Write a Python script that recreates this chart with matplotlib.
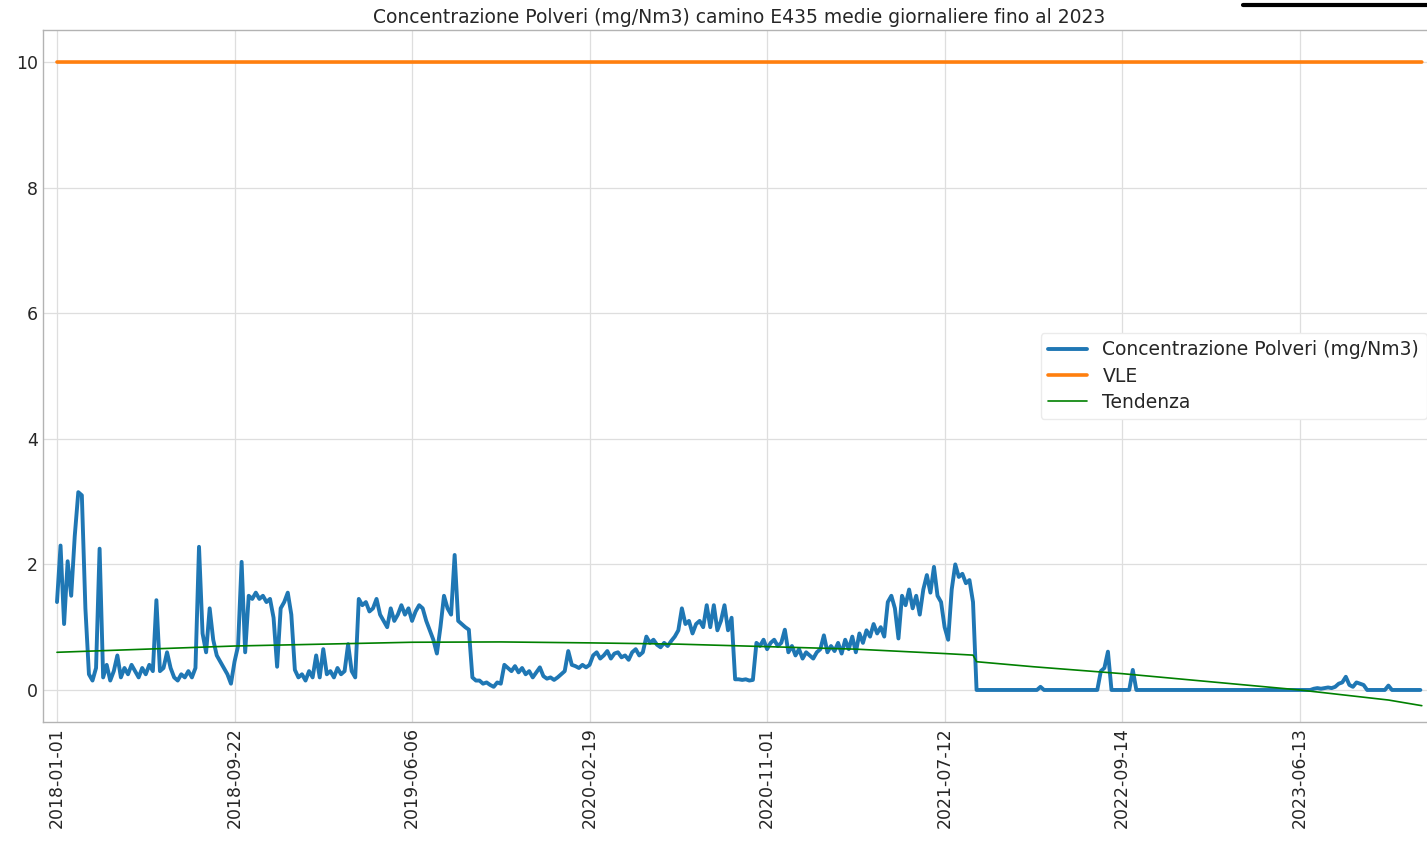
import numpy as np
import matplotlib
matplotlib.use("Agg")
import matplotlib.pyplot as plt
from matplotlib.lines import Line2D

# ---------------- data ----------------
title = "Concentrazione Polveri (mg/Nm3) camino E435 medie giornaliere fino al 2023"
series_label = "Concentrazione Polveri (mg/Nm3)"
vle_label = "VLE"
trend_label = "Tendenza"

n_rows = 1923          # daily rows in the table
sample_step = 5        # one value read every 5 rows
tick_step = 250
tick_labels = ["2018-01-01", "2018-09-22", "2019-06-06", "2020-02-19",
               "2020-11-01", "2021-07-12", "2022-09-14", "2023-06-13"]

conc = [
    1.4, 2.3, 1.05, 2.05, 1.5, 2.45, 3.15, 3.1, 1.3, 0.25,
    0.15, 0.35, 2.25, 0.2, 0.4, 0.15, 0.3, 0.55, 0.2, 0.35,
    0.25, 0.4, 0.3, 0.2, 0.35, 0.25, 0.4, 0.3, 1.43, 0.3,
    0.35, 0.6, 0.35, 0.2, 0.15, 0.25, 0.2, 0.3, 0.2, 0.35,
    2.28, 0.9, 0.6, 1.3, 0.8, 0.55, 0.45, 0.35, 0.25, 0.1,
    0.45, 0.7, 2.04, 0.6, 1.5, 1.45, 1.55, 1.45, 1.5, 1.4,
    1.45, 1.15, 0.37, 1.3, 1.4, 1.55, 1.2, 0.32, 0.2, 0.25,
    0.15, 0.3, 0.2, 0.55, 0.2, 0.65, 0.25, 0.3, 0.2, 0.35,
    0.25, 0.3, 0.73, 0.3, 0.2, 1.45, 1.35, 1.4, 1.25, 1.3,
    1.45, 1.2, 1.1, 1.0, 1.3, 1.1, 1.2, 1.35, 1.2, 1.3,
    1.1, 1.25, 1.35, 1.3, 1.1, 0.95, 0.8, 0.58, 1.0, 1.5,
    1.3, 1.2, 2.15, 1.1, 1.05, 1.0, 0.96, 0.2, 0.15, 0.15,
    0.1, 0.12, 0.08, 0.05, 0.12, 0.1, 0.4, 0.35, 0.3, 0.38,
    0.28, 0.35, 0.25, 0.3, 0.2, 0.28, 0.36, 0.22, 0.18, 0.2,
    0.16, 0.2, 0.25, 0.3, 0.62, 0.4, 0.38, 0.35, 0.4, 0.36,
    0.4, 0.55, 0.6, 0.5, 0.55, 0.62, 0.5, 0.58, 0.6, 0.52,
    0.55, 0.48, 0.6, 0.65, 0.55, 0.6, 0.85, 0.75, 0.8, 0.72,
    0.68, 0.75, 0.7, 0.78, 0.85, 0.95, 1.3, 1.05, 1.1, 0.9,
    1.05, 1.1, 1.0, 1.35, 1.0, 1.35, 0.95, 1.1, 1.35, 0.95,
    1.15, 0.17, 0.17, 0.16, 0.17, 0.15, 0.16, 0.75, 0.7, 0.8,
    0.65, 0.75, 0.8, 0.7, 0.75, 0.96, 0.6, 0.7, 0.55, 0.65,
    0.5, 0.6, 0.55, 0.5, 0.6, 0.65, 0.87, 0.6, 0.7, 0.62,
    0.75, 0.58, 0.8, 0.65, 0.85, 0.6, 0.9, 0.75, 0.95, 0.85,
    1.05, 0.9, 1.0, 0.85, 1.4, 1.5, 1.3, 0.82, 1.5, 1.35,
    1.6, 1.3, 1.5, 1.2, 1.6, 1.83, 1.55, 1.96, 1.5, 1.4,
    1.0, 0.8, 1.6, 2.0, 1.8, 1.85, 1.7, 1.75, 1.4, 0.0,
    0.0, 0.0, 0.0, 0.0, 0.0, 0.0, 0.0, 0.0, 0.0, 0.0,
    0.0, 0.0, 0.0, 0.0, 0.0, 0.0, 0.0, 0.05, 0.0, 0.0,
    0.0, 0.0, 0.0, 0.0, 0.0, 0.0, 0.0, 0.0, 0.0, 0.0,
    0.0, 0.0, 0.0, 0.0, 0.3, 0.35, 0.61, 0.0, 0.0, 0.0,
    0.0, 0.0, 0.0, 0.32, 0.0, 0.0, 0.0, 0.0, 0.0, 0.0,
    0.0, 0.0, 0.0, 0.0, 0.0, 0.0, 0.0, 0.0, 0.0, 0.0,
    0.0, 0.0, 0.0, 0.0, 0.0, 0.0, 0.0, 0.0, 0.0, 0.0,
    0.0, 0.0, 0.0, 0.0, 0.0, 0.0, 0.0, 0.0, 0.0, 0.0,
    0.0, 0.0, 0.0, 0.0, 0.0, 0.0, 0.0, 0.0, 0.0, 0.0,
    0.0, 0.0, 0.0, 0.0, 0.02, 0.03, 0.02, 0.03, 0.04, 0.03,
    0.05, 0.1, 0.12, 0.21, 0.08, 0.05, 0.12, 0.1, 0.08, 0.0,
    0.0, 0.0, 0.0, 0.0, 0.0, 0.07, 0.0, 0.0, 0.0, 0.0,
    0.0, 0.0, 0.0, 0.0, 0.0,
]

vle_value = 10.0

trend_rows = [0, 125, 250, 375, 500, 625, 750, 875, 1000, 1125, 1250, 1290,
              1295, 1375, 1500, 1625, 1750, 1875, 1922]
trend_vals = [0.60, 0.65, 0.70, 0.73, 0.76, 0.765, 0.75, 0.73, 0.69, 0.65, 0.58, 0.555,
              0.45, 0.37, 0.26, 0.13, 0.0, -0.16, -0.25]

# ---------------- plot ----------------
plt.style.use("seaborn-v0_8-whitegrid")
plt.rcParams["font.family"] = ["DejaVu Sans"]

W, H = 1427, 842
fig = plt.figure(figsize=(W / 100, H / 100), dpi=100)
ax = fig.add_axes([43 / W, (H - 722) / H, (1436 - 43) / W, (722 - 30) / H])

x = np.arange(len(conc)) * sample_step
all_rows = np.arange(n_rows)

ax.plot(x, conc, color="#1f77b4", lw=2.8, label=series_label, zorder=3)
ax.plot(all_rows, np.full(n_rows, vle_value), color="#ff7f0e", lw=2.6, label=vle_label, zorder=3)
ax.plot(trend_rows, trend_vals, color="green", lw=1.2, label=trend_label, zorder=4)

ax.set_xlim(-19.7, 1942)
ax.set_ylim(-0.51, 10.51)
ax.set_yticks([0, 2, 4, 6, 8, 10])
ax.set_xticks(np.arange(len(tick_labels)) * tick_step)
ax.set_xticklabels(tick_labels, rotation=90)
ax.tick_params(axis="both", labelsize=12.5, colors="0.15", length=0)
ax.grid(True, color="0.87", lw=0.9)
for s in ax.spines.values():
    s.set_color("0.7")

ax.set_title(title, fontsize=13.5, color="0.15", pad=5)
leg = ax.legend(loc="center right", fontsize=13.5, frameon=True, facecolor="white",
                edgecolor="0.92", framealpha=1.0, handlelength=2.1, labelspacing=0.38)

fig.add_artist(Line2D([1243 / W, 1427 / W], [1 - 5 / H, 1 - 5 / H], color="black", lw=3,
                      transform=fig.transFigure))

fig.savefig("out.png", dpi=100)
